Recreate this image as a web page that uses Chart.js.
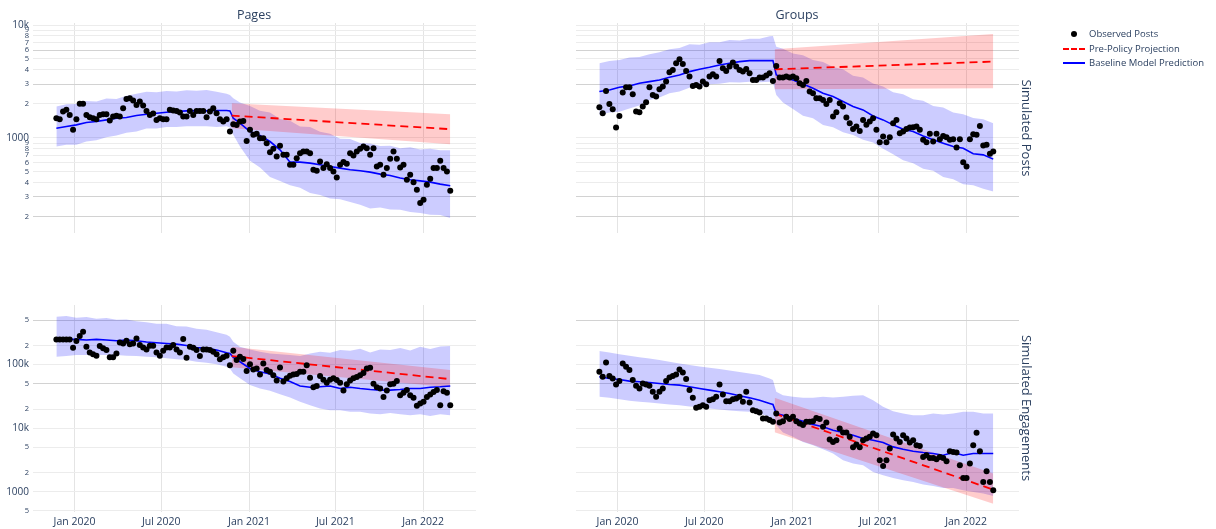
<!DOCTYPE html>
<html>
<head>
<meta charset="utf-8">
<script src="https://cdn.jsdelivr.net/npm/chart.js@4.4.1/dist/chart.umd.min.js"></script>
<style>
  body { margin: 0; background: #fff; font-family: 'Open Sans', sans-serif; }
  #wrap { position: relative; width: 1216px; height: 529px; overflow: hidden; }
  canvas { position: absolute; left: 0; top: 0; }
  .lbl { position: absolute; color: #2a3f5f; white-space: nowrap; line-height: 16px; }
  .leg { position: absolute; color: #2a3f5f; font-size: 9.5px; line-height: 14px; white-space: nowrap; }
</style>
</head>
<body>
<div id="wrap">
  <canvas id="pagesPosts" width="1216" height="529"></canvas>
  <canvas id="groupsPosts" width="1216" height="529"></canvas>
  <canvas id="pagesEng" width="1216" height="529"></canvas>
  <canvas id="groupsEng" width="1216" height="529"></canvas>

  <div class="lbl" style="left:254px; top:7px; font-size:12.5px; transform:translateX(-50%);">Pages</div>
  <div class="lbl" style="left:797px; top:7px; font-size:12.5px; transform:translateX(-50%);">Groups</div>
  <div class="lbl" style="left:1027px; top:128px; font-size:13px; transform:translate(-50%,-50%) rotate(90deg);">Simulated Posts</div>
  <div class="lbl" style="left:1027px; top:408px; font-size:13px; transform:translate(-50%,-50%) rotate(90deg);">Simulated Engagements</div>

  <div style="position:absolute; left:1071px; top:31px; width:6px; height:6px; border-radius:3px; background:#000;"></div>
  <div class="leg" style="left:1089px; top:27px;">Observed Posts</div>
  <div style="position:absolute; left:1063px; top:48px; width:22px; height:0; border-top:2px dashed red;"></div>
  <div class="leg" style="left:1089px; top:42px;">Pre-Policy Projection</div>
  <div style="position:absolute; left:1063px; top:62px; width:22px; height:2px; background:blue;"></div>
  <div class="leg" style="left:1089px; top:56px;">Baseline Model Prediction</div>
</div>
<script>
// weekly observations start here, one point per week
const firstWeek = '2019-11-24';
const weekCount = 119;
const policyWeek = 52.5;

const xTickDates = ['2020-01-01', '2020-07-01', '2021-01-01', '2021-07-01', '2022-01-01'];
const xTickLabels = ['Jan 2020', 'Jul 2020', 'Jan 2021', 'Jul 2021', 'Jan 2022'];
const xRange = ['2019-10-06', '2022-04-22'];

const postTicks = [200, 300, 400, 500, 600, 700, 800, 900, 1000, 2000, 3000, 4000, 5000, 6000, 7000, 8000, 9000, 10000];
const postTickLabels = ['2', '3', '4', '5', '6', '7', '8', '9', '1000', '2', '3', '4', '5', '6', '7', '8', '9', '10k'];
const engTicks = [500, 1000, 2000, 5000, 10000, 20000, 50000, 100000, 200000, 500000];
const engTickLabels = ['5', '1000', '2', '5', '10k', '2', '5', '100k', '2', '5'];
const majorTicks = [1000, 10000, 100000];
const darkGrid = [200, 300, 3000, 6000, 50000, 500000];

const modelWeeks = [0, 3, 6, 9, 12, 15, 18, 21, 24, 27, 30, 33, 36, 39, 42, 45, 48, 51, 52, 53, 55, 58, 61, 64, 67, 70, 73, 76, 79, 82, 85, 88, 91, 94, 97, 100, 103, 106, 109, 112, 115, 118];
const projWeeks = [policyWeek, 118];

// Pages - posts
const pagesPostsObs = [1494, 1462, 1710, 1771, 1597, 1177, 1462, 2001, 2001, 1597,
  1524, 1494, 1462, 1597, 1619, 1619, 1423, 1546, 1567, 1546,
  1832, 2214, 2245, 2140, 1960, 2098, 1933, 1734, 1597, 1641,
  1442, 1494, 1462, 1462, 1771, 1746, 1734, 1675, 1546, 1546,
  1734, 1597, 1734, 1734, 1734, 1524, 1710, 1832, 1650, 1462,
  1396, 1462, 1138, 1320, 1302, 1396, 1414, 940, 1177, 1064,
  1085, 993, 993, 897, 747, 800, 683, 850, 708, 708,
  577, 577, 661, 731, 757, 757, 731, 521, 510, 618,
  540, 585, 540, 504, 446, 577, 610, 589, 731, 698,
  757, 800, 838, 810, 708, 810, 558, 577, 471, 540,
  652, 757, 652, 546, 577, 425, 471, 405, 347, 264,
  283, 384, 434, 540, 540, 626, 540, 504, 340];
const pagesPostsPred = [1218, 1260, 1303, 1367, 1395, 1443, 1493, 1513, 1576, 1620, 1654, 1687, 1710, 1734, 1734, 1734, 1746, 1746, 1734, 1493, 1349, 1138, 1049, 928, 783, 609, 609, 597, 577, 558, 539, 521, 511, 497, 477, 464, 440, 425, 416, 405, 389, 376];
const pagesPostsHigh = [1894, 1990, 2000, 2120, 2100, 2230, 2210, 2360, 2460, 2560, 2540, 2600, 2580, 2640, 2620, 2650, 2560, 2460, 2401, 2244, 2060, 1920, 1740, 1680, 1470, 1420, 1260, 1250, 1130, 1090, 980, 975, 900, 890, 845, 850, 810, 825, 790, 800, 775, 775];
const pagesPostsLow = [838, 870, 870, 930, 950, 1010, 1050, 1110, 1140, 1210, 1210, 1245, 1250, 1270, 1265, 1270, 1250, 1265, 1235, 1063, 838, 626, 545, 450, 415, 380, 362, 325, 312, 290, 286, 270, 255, 236, 242, 232, 231, 220, 216, 208, 207, 195];
const pagesPostsProj = [1576, 1193];
const pagesPostsProjHigh = [2027, 1620];
const pagesPostsProjLow = [1218, 879];

// Groups - posts
const groupsPostsObs = [1868, 1654, 2606, 2000, 1794, 1235, 1565, 2519, 2808, 2808,
  2435, 1711, 1688, 1894, 2069, 2808, 2403, 2322, 2696, 2847,
  3152, 3813, 3999, 4580, 4969, 4518, 3917, 3490, 2886, 2945,
  2847, 3152, 2985, 3490, 3660, 3490, 4803, 4136, 3917, 4279,
  4643, 4279, 3999, 3864, 4080, 3735, 3261, 3261, 3420, 3420,
  3562, 3735, 3196, 4337, 3420, 3420, 3490, 3420, 3490, 3374,
  3047, 2945, 3196, 2571, 2485, 2244, 2244, 2169, 2000, 2169,
  1544, 1688, 2027, 1894, 1513, 1349, 1201, 1260, 1153, 1443,
  1304, 1395, 1493, 1177, 915, 1027, 915, 1014, 1349, 1443,
  1100, 1138, 1201, 1235, 1243, 1260, 1177, 960, 915, 1085,
  928, 1085, 973, 1041, 1014, 960, 973, 821, 973, 609,
  558, 973, 1078, 1063, 1277, 855, 867, 722, 757];
const groupsPostsPred = [2571, 2659, 2808, 2886, 3047, 3152, 3261, 3443, 3611, 3864, 4052, 4220, 4429, 4580, 4738, 4836, 4836, 4836, 4836, 3611, 3443, 3261, 3006, 2751, 2485, 2322, 2097, 1894, 1769, 1565, 1443, 1304, 1193, 1138, 1041, 960, 897, 838, 810, 722, 707, 648];
const groupsPostsHigh = [4580, 4800, 4900, 5150, 5200, 5500, 5750, 6100, 6250, 6750, 6700, 7050, 7050, 7350, 7300, 7550, 7550, 7950, 7996, 6432, 6150, 5600, 5400, 4900, 4700, 4250, 4050, 3550, 3420, 3030, 2850, 2530, 2440, 2200, 2130, 1920, 1860, 1680, 1620, 1500, 1460, 1349];
const groupsPostsLow = [1598, 1680, 1700, 1820, 1940, 2170, 2280, 2480, 2580, 2780, 2820, 2980, 3020, 3110, 3090, 3150, 3110, 3150, 3088, 2403, 2060, 1800, 1570, 1490, 1300, 1240, 1120, 1060, 960, 910, 800, 715, 632, 595, 533, 510, 450, 430, 388, 380, 354, 335];
const groupsPostsProj = [4052, 4738];
const groupsPostsProjHigh = [6090, 8326];
const groupsPostsProjLow = [2696, 2751];

// Pages - engagements
const pagesEngObs = [249000, 249000, 249000, 249000, 249000, 184000, 234000, 281000, 329000, 191000,
  155000, 146000, 138000, 196000, 180000, 169000, 130000, 130000, 150000, 223000,
  215000, 237000, 208000, 215000, 258000, 203000, 186000, 173000, 198000, 198000,
  155000, 138000, 165000, 186000, 186000, 203000, 173000, 155000, 252000, 128000,
  191000, 184000, 169000, 136000, 173000, 173000, 169000, 159000, 145000, 121000,
  130000, 138000, 98000, 165000, 118000, 133000, 122000, 79000, 101000, 84000,
  87000, 70000, 104000, 82000, 77000, 68000, 56000, 90000, 54000, 61000,
  67000, 70000, 71000, 77000, 77000, 98000, 62000, 44000, 46000, 66000,
  58000, 52000, 58000, 61000, 57000, 52000, 39000, 49000, 56000, 61000,
  64000, 68000, 74000, 87000, 89000, 50000, 44000, 42000, 31000, 39000,
  49000, 50000, 55000, 33000, 36000, 40000, 33000, 30000, 22500, 24500,
  26000, 31000, 34000, 37000, 40000, 23000, 38000, 36000, 23000];
const pagesEngPred = [249000, 249000, 249000, 243000, 249000, 243000, 237000, 243000, 237000, 226000, 221000, 215000, 210000, 200000, 186000, 180000, 169000, 154000, 150000, 130000, 111000, 87000, 77000, 71000, 61000, 54000, 46000, 44000, 44800, 46000, 42000, 44000, 42000, 40600, 39700, 39700, 40600, 42000, 42000, 44000, 44800, 46000];
const pagesEngHigh = [567000, 580000, 545000, 560000, 525000, 540000, 505000, 510000, 480000, 462000, 440000, 440000, 400000, 398000, 365000, 352000, 322000, 295000, 274000, 229000, 191000, 173000, 159000, 150000, 145000, 141000, 136000, 150000, 159000, 154000, 169000, 165000, 178000, 155000, 172000, 170000, 183000, 166000, 190000, 176000, 192000, 196000];
const pagesEngLow = [133000, 136000, 141000, 141000, 141000, 141000, 141000, 138000, 136000, 133000, 130000, 126000, 121000, 118000, 111000, 107000, 101000, 92400, 87000, 72600, 61000, 47600, 42000, 38700, 34300, 30400, 26000, 23000, 20400, 19200, 19200, 18100, 18100, 17000, 16600, 17400, 16600, 16000, 16600, 15500, 16600, 16000];
const pagesEngProj = [136000, 59000];
const pagesEngProjHigh = [191000, 82000];
const pagesEngProjLow = [91000, 44000];

// Groups - engagements
const groupsEngObs = [77100, 64300, 108000, 65900, 60600, 48700, 55000, 104000, 92400, 81900,
  57000, 46400, 42100, 50500, 48700, 46400, 37300, 31200, 37300, 42100,
  55000, 62800, 65900, 70000, 83900, 75300, 59100, 39700, 30000, 20900,
  21700, 23000, 21700, 27600, 28600, 31200, 48700, 33900, 26600, 26600,
  28600, 29300, 31200, 26000, 37300, 25400, 19200, 18500, 17600, 14200,
  14200, 13400, 12600, 17000, 12300, 12900, 15100, 13900, 15100, 12900,
  11800, 11200, 12600, 12600, 12900, 14500, 13900, 10500, 12300, 6630,
  6090, 6475, 9880, 8550, 8550, 7305, 5010, 5530, 5010, 6475,
  6877, 7305, 8240, 7760, 3134, 2552, 3134, 4784, 7950, 6877,
  6090, 7760, 6877, 5947, 6475, 5400, 5270, 3536, 3756, 3410,
  3410, 3250, 3536, 3410, 3022, 4343, 4240, 4140, 2615, 1652,
  1652, 2777, 5400, 8445, 4343, 1428, 2103, 1428, 1056];
const groupsEngPred = [64300, 60600, 58400, 55000, 53700, 52400, 50500, 48700, 47600, 44800, 42100, 39700, 37300, 35200, 32300, 30000, 27600, 24500, 23600, 17000, 16000, 14200, 12900, 11400, 10500, 9300, 8550, 7760, 6877, 6475, 5947, 5083, 4670, 4343, 4140, 3991, 3756, 4140, 3756, 3991, 3991, 3991];
const groupsEngHigh = [163000, 155000, 146000, 138000, 131000, 125000, 118000, 111000, 104000, 98200, 93600, 89200, 85000, 80900, 76200, 72600, 68300, 60600, 57000, 37300, 33100, 31200, 30000, 30000, 31200, 30400, 31200, 32300, 33100, 27600, 21700, 18500, 17000, 16000, 16000, 17000, 16400, 17000, 18100, 18100, 17000, 17000];
const groupsEngLow = [31200, 30000, 28600, 26900, 26000, 25400, 24500, 23600, 23000, 21900, 21400, 20400, 19700, 19000, 18500, 18100, 17000, 15100, 14200, 11200, 8550, 7305, 6090, 5400, 4670, 3991, 3134, 2777, 2615, 2053, 1819, 1652, 1518, 1428, 1297, 1236, 1149, 1149, 1056, 994, 936, 860];
const groupsEngProj = [17000, 1080];
const groupsEngProjHigh = [30000, 1930];
const groupsEngProjLow = [8600, 650];

function dayOf(s) {
  let p = s.split('-').map(Number);
  return (Date.UTC(p[0], p[1] - 1, p[2]) - Date.UTC(2020, 0, 1)) / 864e5;
}
const startDay = dayOf(firstWeek);
const weekDay = (w) => startDay + 7 * w;
const obsWeeks = Array.from({ length: weekCount }, (_, i) => i);
const xTickDays = xTickDates.map(dayOf);

function pts(weeks, vals) {
  return vals.map((v, i) => ({ x: weekDay(weeks[i]), y: v }));
}

function fixBox(w, h) {
  return (s) => {
    if (w !== null) s.width = w;
    if (h !== null) s.height = h;
    s.paddingTop = 0; s.paddingBottom = 0; s.paddingLeft = 0; s.paddingRight = 0;
  };
}

function panel(id, area, yMin, yMax, ticks, tickLabels, showY, showX, d) {
  const yW = showY ? 33 : 0;
  const xH = showX ? 20 : 0;
  const line = { pointRadius: 0, borderWidth: 0, tension: 0 };
  new Chart(document.getElementById(id), {
    type: 'line',
    data: {
      datasets: [
        { ...line, data: pts(modelWeeks, d.high), fill: '+1', backgroundColor: 'rgba(0,0,255,0.2)', order: 4 },
        { ...line, data: pts(modelWeeks, d.low), fill: false, order: 4 },
        { ...line, data: pts(projWeeks, d.projHigh), fill: '+1', backgroundColor: 'rgba(255,0,0,0.2)', order: 3 },
        { ...line, data: pts(projWeeks, d.projLow), fill: false, order: 3 },
        { ...line, data: pts(modelWeeks, d.pred), borderColor: 'blue', borderWidth: 1.6, order: 2 },
        { ...line, data: pts(projWeeks, d.proj), borderColor: 'red', borderWidth: 1.8, borderDash: [8, 5], order: 1 },
        { data: pts(obsWeeks, d.obs), showLine: false, pointRadius: 3, pointBorderWidth: 0, pointBackgroundColor: '#000', order: 0 }
      ]
    },
    options: {
      responsive: false,
      animation: false,
      devicePixelRatio: 1,
      layout: { padding: { left: area[0] - yW, top: area[1], right: 1216 - area[2], bottom: 529 - area[3] - xH } },
      plugins: { legend: { display: false }, tooltip: { enabled: false } },
      scales: {
        x: {
          type: 'linear', bounds: 'data',
          min: dayOf(xRange[0]), max: dayOf(xRange[1]),
          afterBuildTicks: (s) => { s.ticks = xTickDays.map((v) => ({ value: v })); },
          afterFit: fixBox(null, xH),
          border: { display: false },
          grid: { color: '#e4e4e4', drawTicks: false },
          ticks: {
            display: showX, autoSkip: false, maxRotation: 0, padding: 4,
            color: '#2a3f5f', font: { family: 'Open Sans', size: 10.5 },
            callback: (v) => xTickLabels[xTickDays.indexOf(v)]
          }
        },
        y: {
          type: 'logarithmic', bounds: 'data', min: yMin, max: yMax,
          afterBuildTicks: (s) => { s.ticks = ticks.map((v) => ({ value: v })); },
          afterFit: fixBox(yW, null),
          border: { display: false },
          grid: { drawTicks: false, color: (c) => darkGrid.includes(c.tick && c.tick.value) ? '#d2d2d2' : '#ececec' },
          ticks: {
            display: showY, autoSkip: false, padding: 4,
            color: '#2a3f5f',
            font: (c) => ({ family: 'Open Sans', size: majorTicks.includes(c.tick && c.tick.value) ? 10 : 7.5 }),
            callback: (v) => tickLabels[ticks.indexOf(v)]
          }
        }
      }
    }
  });
}

const postMin = 143.5, postMax = 10420;
const engMin = 481, engMax = 865000;

panel('pagesPosts', [33, 23, 476, 233], postMin, postMax, postTicks, postTickLabels, true, false,
  { obs: pagesPostsObs, pred: pagesPostsPred, high: pagesPostsHigh, low: pagesPostsLow, proj: pagesPostsProj, projHigh: pagesPostsProjHigh, projLow: pagesPostsProjLow });
panel('groupsPosts', [576, 23, 1019, 233], postMin, postMax, postTicks, postTickLabels, false, false,
  { obs: groupsPostsObs, pred: groupsPostsPred, high: groupsPostsHigh, low: groupsPostsLow, proj: groupsPostsProj, projHigh: groupsPostsProjHigh, projLow: groupsPostsProjLow });
panel('pagesEng', [33, 305, 476, 512], engMin, engMax, engTicks, engTickLabels, true, true,
  { obs: pagesEngObs, pred: pagesEngPred, high: pagesEngHigh, low: pagesEngLow, proj: pagesEngProj, projHigh: pagesEngProjHigh, projLow: pagesEngProjLow });
panel('groupsEng', [576, 305, 1019, 512], engMin, engMax, engTicks, engTickLabels, false, true,
  { obs: groupsEngObs, pred: groupsEngPred, high: groupsEngHigh, low: groupsEngLow, proj: groupsEngProj, projHigh: groupsEngProjHigh, projLow: groupsEngProjLow });
</script>
</body>
</html>
